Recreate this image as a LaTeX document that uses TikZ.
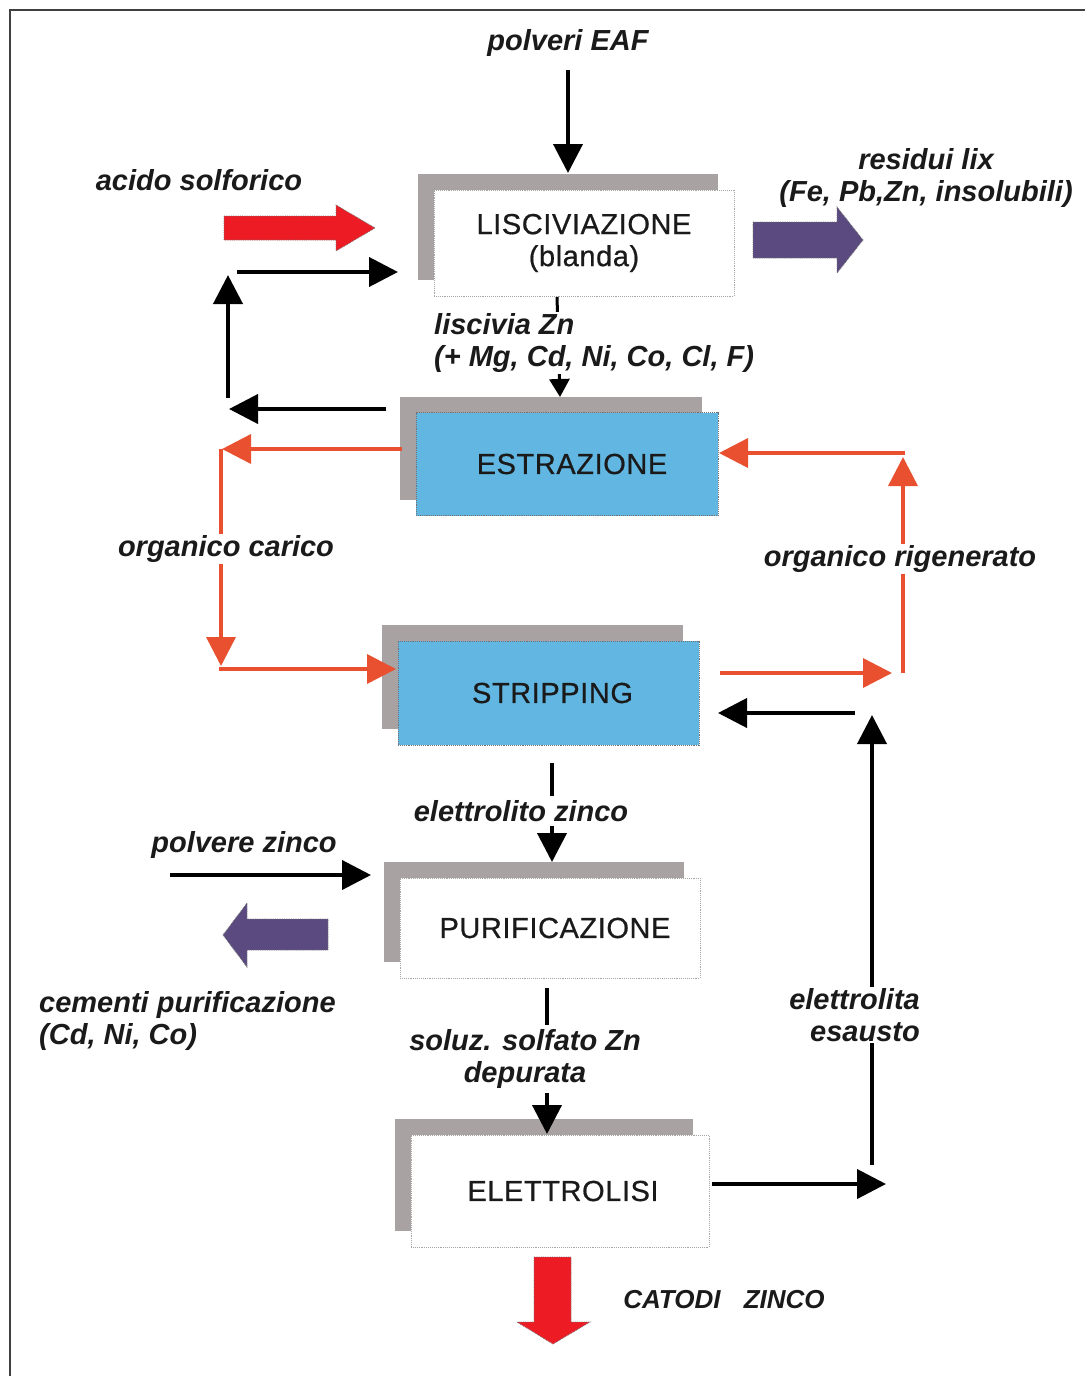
\documentclass[tikz,border=0pt]{standalone}
\usepackage{fontspec}
\setmainfont{Liberation Sans}
\newfontfamily\boxfont[FakeBold=0.6,LetterSpace=2]{Liberation Sans}
\usetikzlibrary{arrows.meta,shadows}
\definecolor{redblock}{HTML}{ED1C24}
\definecolor{redline}{HTML}{E8502F}
\definecolor{purpleblock}{HTML}{5A4A80}
\definecolor{blueb}{HTML}{62B6E2}
\definecolor{shadowgray}{HTML}{A8A2A2}
\definecolor{txt}{HTML}{1A1A1A}
\begin{document}
\begin{tikzpicture}[x=1pt,y=-1pt,
  box/.style={draw=gray!70, densely dotted, line width=0.9pt, fill=white,
    minimum width=300pt, minimum height=106pt, align=center, inner sep=0pt,
    font=\boxfont\fontsize{29}{32}\selectfont, text=txt,
    copy shadow={shadow xshift=-16pt, shadow yshift=16pt, fill=shadowgray, draw=none}},
  bbox/.style={box, fill=blueb, draw=gray!90!black},
  lab/.style={font=\fontsize{29}{32}\selectfont\bfseries\itshape, text=txt, inner sep=1pt},
  labw/.style={lab, fill=white},
  blk/.style={line width=4pt, -{Triangle[length=29pt,width=29pt]}},
  blks/.style={line width=3pt, -{Triangle[length=18pt,width=20pt]}},
  rl/.style={draw=redline, line width=3.5pt, -{Triangle[length=29pt,width=29pt]}},
  barrow/.style={draw=black!55, densely dotted, line width=0.8pt}
]
\useasboundingbox (0,0) rectangle (1085,1376);
% frame
\draw[line width=1.5pt, black!75] (10,1376) -- (10,10) -- (1085,10);

% boxes
\node[box] (lis) at (584,243) {LISCIVIAZIONE\\(blanda)};
\node[bbox, minimum width=302pt, minimum height=103pt] (est) at (567,464) {\hspace*{10pt}ESTRAZIONE};
\node[bbox, minimum width=301pt, minimum height=104pt] (str) at (548.5,693) {\hspace*{8pt}STRIPPING};
\node[box, minimum height=100pt] (pur) at (550,928) {\hspace*{10pt}PURIFICAZIONE};
\node[box, minimum width=298pt, minimum height=112pt] (ele) at (560,1191) {\hspace*{6pt}ELETTROLISI};

% top input
\node[lab] (eaf) at (568,43) {polveri EAF};
\coordinate (eafA) at (568,70);
\coordinate (eafB) at (568,173);
\draw[blk] (eafA) -- (eafB);

% acido solforico
\node[lab] (acido) at (199,180) {acido solforico};
\fill[redblock] (224,216) -- (336,216) -- (336,205) -- (375,228) -- (336,251) -- (336,240) -- (224,240) -- cycle;
\draw[barrow] (224,216) -- (336,216) -- (336,205) -- (375,228) -- (336,251) -- (336,240) -- (224,240) -- cycle;

% residui
\node[lab, align=center] (res) at (926,178) {residui lix\\(Fe, Pb,Zn, insolubili)};
\fill[purpleblock] (753,222) -- (837,222) -- (837,207) -- (863,240) -- (837,273) -- (837,258) -- (753,258) -- cycle;
\draw[barrow] (753,222) -- (837,222) -- (837,207) -- (863,240) -- (837,273) -- (837,258) -- (753,258) -- cycle;

% left black loop
\coordinate (k1) at (386,409);
\coordinate (k2) at (229,409);
\coordinate (k3) at (228,398);
\coordinate (k4) at (228,275);
\coordinate (k5) at (237,272);
\coordinate (k6) at (398,272);
\draw[blk] (k1) -- (k2);
\draw[blk] (k3) -- (k4);
\draw[blk] (k5) -- (k6);

% lisciviazione -> estrazione
\draw[blks] (557,297) -- (560,397);
\node[labw, align=left, anchor=west] (lzn) at (433,343) {liscivia Zn\\(+ Mg, Cd, Ni, Co, Cl, F)};

% red left loop
\coordinate (r1) at (402,449);
\coordinate (r2) at (222,449);
\coordinate (r3) at (221,449);
\coordinate (r4) at (221,666);
\coordinate (r5) at (219,669);
\coordinate (r6) at (396,669);
\draw[rl] (r1) -- (r2);
\draw[rl] (r3) -- (r4);
\draw[rl] (r5) -- (r6);
\node[labw] (oc) at (226,549) {organico carico};

% red right loop
\coordinate (q1) at (720,673);
\coordinate (q2) at (892,673);
\coordinate (q3) at (903,673);
\coordinate (q4) at (903,457);
\coordinate (q5) at (905,453);
\coordinate (q6) at (719,453);
\draw[rl] (q1) -- (q2);
\draw[rl] (q3) -- (q4);
\draw[rl] (q5) -- (q6);
\node[labw] (org) at (900,559) {organico rigenerato};

% black right loop
\coordinate (b1) at (712,1184);
\coordinate (b2) at (886,1184);
\coordinate (b3) at (872,1165);
\coordinate (b4) at (872,715);
\coordinate (b5) at (855,713);
\coordinate (b6) at (718,713);
\draw[blk] (b1) -- (b2);
\draw[blk] (b3) -- (b4);
\draw[blk] (b5) -- (b6);
\node[labw, align=right, anchor=east] (ee) at (921,1015) {elettrolita\\esausto};

% stripping -> purificazione
\draw[blk, shorten <=18pt] (552,745) -- (552,862);
\node[labw, inner ysep=4pt] (ez) at (521,811) {elettrolito zinco};

% polvere zinco
\node[lab] (pz) at (244,845) {polvere zinco};
\coordinate (pzA) at (170,875);
\coordinate (pzB) at (371,875);
\draw[blk] (pzA) -- (pzB);

% cementi
\fill[purpleblock] (328,919) -- (247,919) -- (247,903) -- (223,935) -- (247,967) -- (247,950) -- (328,950) -- cycle;
\draw[barrow] (328,919) -- (247,919) -- (247,903) -- (223,935) -- (247,967) -- (247,950) -- (328,950) -- cycle;
\node[lab, align=left, anchor=west] (cem) at (38,1021) {cementi purificazione\\(Cd, Ni, Co)};

% purificazione -> elettrolisi
\draw[blk, shorten <=10pt] (547,978) -- (547,1134);
\node[labw, align=center, inner ysep=4pt] (sol) at (525,1059) {soluz. solfato Zn\\depurata};

% catodi
\fill[redblock] (534,1257) -- (571,1257) -- (571,1322) -- (590,1322) -- (553,1344) -- (517,1322) -- (534,1322) -- cycle;
\draw[barrow] (534,1257) -- (571,1257) -- (571,1322) -- (590,1322) -- (553,1344) -- (517,1322) -- (534,1322) -- cycle;
\node[lab, font=\fontsize{26}{30}\selectfont\bfseries\itshape] (cat) at (724,1300) {CATODI\hspace{16pt} ZINCO};
\end{tikzpicture}
\end{document}
